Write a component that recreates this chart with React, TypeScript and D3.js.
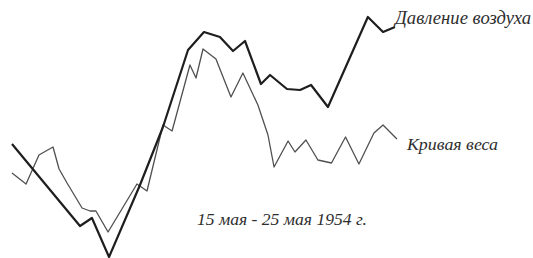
import * as d3 from 'd3'
import React, { useEffect, useRef } from 'react'

// hours since 15 May 00:00
const pressureHours = [0, 42.6, 50.1, 60.8, 80.2, 94.6, 110.3, 120.3, 130.3, 138.5, 146, 156, 161.7, 172.3, 180.5, 187.4, 198, 223, 232.5, 240]
const pressureValues = [46.4, 13.6, 16.8, 1.2, 30, 53.2, 84, 91.2, 89.2, 83.6, 87.6, 70.4, 74, 68.4, 68, 70, 61.2, 97.2, 91.2, 93.2]

const weightHours = [0, 8.8, 16.9, 25.7, 29.5, 34.5, 43.9, 48.9, 52.6, 60.2, 78.3, 84.6, 94.6, 100.3, 111.5, 115.3, 119.7, 127.8, 137.2, 144.7, 154.1, 160.4, 164.2, 173, 177.3, 184.2, 191.7, 200.2, 209, 217.4, 226.8, 232.5, 241.2]
const weightValues = [34.8, 30.4, 42, 45.2, 36.4, 30.8, 20.8, 19.6, 19.6, 11.2, 30.4, 27.6, 54, 51.6, 78, 72.8, 84.4, 80.4, 65.2, 74.8, 62, 50, 37.2, 47.6, 43.2, 48, 40, 38.8, 49.2, 38.4, 50.8, 54, 48.4]

const seriesLabels = ['Давление воздуха', 'Кривая веса']
const periodLabel = '15 мая - 25 мая 1954 г.'

export default function App() {
  const ref = useRef<SVGSVGElement>(null)

  useEffect(() => {
    if (!ref.current) return
    document.body.style.margin = '0'
    const width = 533
    const height = 258

    const svg = d3.select(ref.current)
    svg.selectAll('*').remove()
    svg.attr('width', width).attr('height', height)

    const x = d3.scaleLinear().domain([0, 240]).range([12, 395])
    const y = d3.scaleLinear().domain([0, 100]).range([260, 10])

    const line = d3
      .line<[number, number]>()
      .x(d => x(d[0]))
      .y(d => y(d[1]))

    const weight = weightHours.map((h, i) => [h, weightValues[i]] as [number, number])
    const pressure = pressureHours.map((h, i) => [h, pressureValues[i]] as [number, number])

    svg
      .append('path')
      .attr('d', line(weight))
      .attr('fill', 'none')
      .attr('stroke', '#505050')
      .attr('stroke-width', 1.3)
      .attr('stroke-linejoin', 'round')

    svg
      .append('path')
      .attr('d', line(pressure))
      .attr('fill', 'none')
      .attr('stroke', '#1e1e1e')
      .attr('stroke-width', 2.2)
      .attr('stroke-linejoin', 'round')

    const font = "'Liberation Serif', 'DejaVu Serif', serif"
    const labels = [
      { text: seriesLabels[0], x: 395, y: 24, size: 18, len: 136 },
      { text: seriesLabels[1], x: 407, y: 150, size: 17.5, len: 91 },
      { text: periodLabel, x: 197, y: 225, size: 17, len: 170 },
    ]

    svg
      .selectAll('text')
      .data(labels)
      .join('text')
      .attr('x', d => d.x)
      .attr('y', d => d.y)
      .attr('font-family', font)
      .attr('font-style', 'italic')
      .attr('font-size', d => d.size)
      .attr('textLength', d => d.len)
      .attr('lengthAdjust', 'spacingAndGlyphs')
      .attr('fill', '#2e2e2e')
      .text(d => d.text)
  }, [])

  return <svg ref={ref} style={{ display: 'block' }} />
}
